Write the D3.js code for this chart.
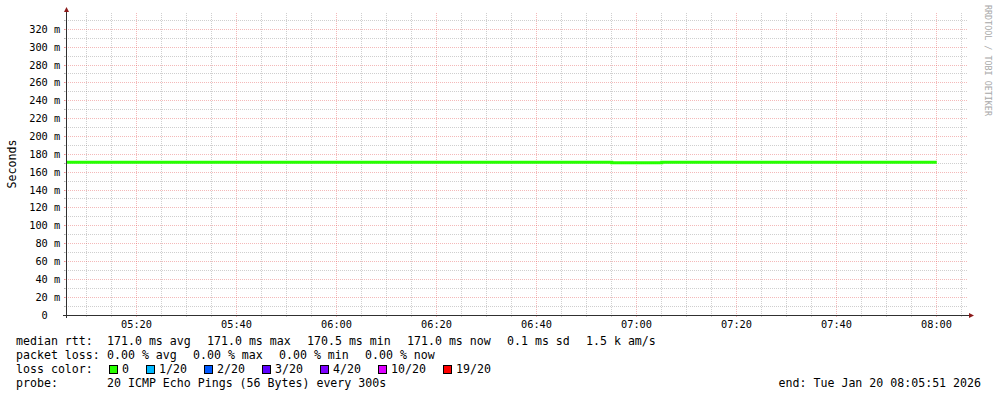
<!DOCTYPE html>
<html>
<head>
<meta charset="utf-8">
<script src="https://cdn.jsdelivr.net/npm/d3@7"></script>
<style>
  body { margin: 0; background: #fff; }
  svg { display: block; }
  text { font-family: "DejaVu Sans Mono", monospace; }
</style>
</head>
<body>
<div id="chart"></div>
<script>
const W = 997, H = 397;

// time window (clock times shown as UTC)
const startTime = new Date(Date.UTC(2026, 0, 20, 5, 5, 51));
const endTime = new Date(Date.UTC(2026, 0, 20, 8, 5, 51));

// 5-minute samples, each labelled by the end of its interval
const sampleEnds = [
  "05:10", "05:15", "05:20", "05:25", "05:30", "05:35", "05:40", "05:45", "05:50", "05:55",
  "06:00", "06:05", "06:10", "06:15", "06:20", "06:25", "06:30", "06:35", "06:40", "06:45",
  "06:50", "06:55", "07:00", "07:05", "07:10", "07:15", "07:20", "07:25", "07:30", "07:35",
  "07:40", "07:45", "07:50", "07:55", "08:00"
];
// median rtt in ms
const medianRtt = [
  171.0, 171.0, 171.0, 171.0, 171.0, 171.0, 171.0, 171.0, 171.0, 171.0,
  171.0, 171.0, 171.0, 171.0, 171.0, 171.0, 171.0, 171.0, 171.0, 171.0,
  171.0, 171.0, 170.5, 170.5, 171.0, 171.0, 171.0, 171.0, 171.0, 171.0,
  171.0, 171.0, 171.0, 171.0, 171.0
];

const yTicks = [0, 20, 40, 60, 80, 100, 120, 140, 160, 180, 200, 220, 240, 260, 280, 300, 320];
const yMinor = [10, 30, 50, 70, 90, 110, 130, 150, 170, 190, 210, 230, 250, 270, 290, 310, 330];

const lossLabels = ["0", "1/20", "2/20", "3/20", "4/20", "10/20", "19/20"];
const lossColors = ["#26ff00", "#00b8ff", "#0059ff", "#5e00ff", "#7e00ff", "#dd00ff", "#ff0000"];

const rttItems = ["171.0 ms avg", "171.0 ms max", "170.5 ms min", "171.0 ms now", "0.1 ms sd", "1.5 k am/s"];
const lossItems = ["0.00 % avg", "0.00 % max", "0.00 % min", "0.00 % now"];

const parseT = s => {
  const [h, m] = s.split(":").map(Number);
  return new Date(Date.UTC(2026, 0, 20, h, m, 0));
};

const X0 = 66, X1 = 966, Y0 = 315, Y1 = 14;
const x = d3.scaleUtc().domain([startTime, endTime]).range([X0, X1]);
const y = d3.scaleLinear().domain([0, 337.12]).range([Y0, Y1]);
const px = v => Math.floor(v) + 0.5;

const svg = d3.select("#chart").append("svg")
  .attr("width", W).attr("height", H);

svg.append("rect").attr("width", W).attr("height", H).attr("fill", "#fff");

const minorCol = "rgba(110,110,110,0.33)";
const majorCol = "rgba(225,70,70,0.38)";

const grid = svg.append("g").attr("shape-rendering", "crispEdges");

// vertical grid
const vMinor = d3.utcMinute.every(5).range(startTime, endTime).filter(t => t.getUTCMinutes() % 20 !== 0);
const vMajor = d3.utcMinute.every(20).range(startTime, endTime);

function vLines(data, col) {
  grid.append("g").selectAll("line").data(data).join("line")
    .attr("x1", d => px(x(d))).attr("x2", d => px(x(d)))
    .attr("y1", Y1 - 1).attr("y2", Y0)
    .attr("stroke", col).attr("stroke-dasharray", "1,1");
  grid.append("g").selectAll("line").data(data).join("line")
    .attr("x1", d => px(x(d))).attr("x2", d => px(x(d)))
    .attr("y1", Y0).attr("y2", Y0 + 2)
    .attr("stroke", col);
}
function hLines(data, col) {
  grid.append("g").selectAll("line").data(data).join("line")
    .attr("x1", X0 - 2).attr("x2", X1 + 2)
    .attr("y1", d => px(y(d))).attr("y2", d => px(y(d)))
    .attr("stroke", col).attr("stroke-dasharray", "1,1");
  grid.append("g").selectAll("line").data(data).join("line")
    .attr("x1", X0 - 2).attr("x2", X0)
    .attr("y1", d => px(y(d))).attr("y2", d => px(y(d)))
    .attr("stroke", col);
}
vLines(vMinor, minorCol);
hLines(yMinor, minorCol);
vLines(vMajor, majorCol);
hLines(yTicks.filter(d => d > 0), majorCol);

// data line
const segs = sampleEnds.map((s, i) => {
  const e = parseT(s);
  const st = new Date(Math.max(+startTime, +e - 300000));
  return { t: st, v: medianRtt[i] };
});
segs.push({ t: parseT(sampleEnds[sampleEnds.length - 1]), v: medianRtt[medianRtt.length - 1] });

svg.append("path")
  .datum(segs)
  .attr("fill", "none")
  .attr("stroke", lossColors[0])
  .attr("stroke-width", 3)
  .attr("d", d3.line().x(d => x(d.t)).y(d => y(d.v)).curve(d3.curveStepAfter));

// axes
const axisCol = "#303030";
const arrowCol = "#8b1a1a";
const ax = svg.append("g").attr("shape-rendering", "crispEdges");
ax.append("line").attr("x1", X0 - 3).attr("x2", X1 + 3)
  .attr("y1", Y0 + 0.5).attr("y2", Y0 + 0.5).attr("stroke", axisCol);
ax.append("line").attr("x1", X0 + 0.5).attr("x2", X0 + 0.5)
  .attr("y1", Y1 - 2).attr("y2", Y0 + 3).attr("stroke", axisCol);
svg.append("path")
  .attr("d", `M${X1 + 3},${Y0 - 2} L${X1 + 8},${Y0 + 0.5} L${X1 + 3},${Y0 + 3} Z`)
  .attr("fill", arrowCol);
svg.append("path")
  .attr("d", `M${X0 - 2},${Y1 - 2} L${X0 + 0.5},${Y1 - 7} L${X0 + 3},${Y1 - 2} Z`)
  .attr("fill", arrowCol);

// tick labels
const tickFont = "10.3px";
svg.append("g").selectAll("text").data(vMajor).join("text")
  .attr("x", d => px(x(d))).attr("y", 328)
  .attr("text-anchor", "middle")
  .style("font-size", tickFont).attr("fill", "#000")
  .text(d3.utcFormat("%H:%M"));

const yl = svg.append("g");
yl.selectAll("text.num").data(yTicks).join("text")
  .attr("class", "num")
  .attr("x", 47.8).attr("y", d => px(y(d)) + 3.6)
  .attr("text-anchor", "end")
  .style("font-size", tickFont).attr("fill", "#000")
  .text(d => d);
yl.selectAll("text.unit").data(yTicks.filter(d => d > 0)).join("text")
  .attr("class", "unit")
  .attr("x", 54).attr("y", d => px(y(d)) + 3.6)
  .style("font-size", tickFont).attr("fill", "#000")
  .text("m");

svg.append("text")
  .attr("transform", "translate(15.5,164) rotate(-90)")
  .attr("text-anchor", "middle")
  .style("font-size", "11.6px")
  .text("Seconds");

// watermark
svg.append("text")
  .attr("transform", "translate(984.5,5) rotate(90)")
  .style("font-size", "8.4px").attr("fill", "#a8a8a8")
  .text("RRDTOOL / TOBI OETIKER");

// legend
const lf = "11.6px", cw = 7, gap = 16;
const leg = svg.append("g").style("font-size", lf).attr("fill", "#000");

function row(label, items, yb) {
  leg.append("text").attr("x", 16).attr("y", yb).text(label);
  let cx = 107;
  items.forEach(t => {
    leg.append("text").attr("x", cx).attr("y", yb).text(t);
    cx += t.length * cw + gap;
  });
}
row("median rtt:", rttItems, 345);
row("packet loss:", lossItems, 359);

leg.append("text").attr("x", 16).attr("y", 373).text("loss color:");
let bx = 109;
lossLabels.forEach((l, i) => {
  leg.append("rect")
    .attr("x", bx + 0.5).attr("y", 365.5).attr("width", 8).attr("height", 8)
    .attr("fill", lossColors[i]).attr("stroke", "#000")
    .attr("shape-rendering", "crispEdges");
  leg.append("text").attr("x", bx + 13).attr("y", 373).text(l);
  bx += 13 + l.length * cw + 17;
});

leg.append("text").attr("x", 16).attr("y", 387).text("probe:");
leg.append("text").attr("x", 107).attr("y", 387).text("20 ICMP Echo Pings (56 Bytes) every 300s");
leg.append("text").attr("x", 981).attr("y", 387).attr("text-anchor", "end")
  .text("end: Tue Jan 20 08:05:51 2026");
</script>
</body>
</html>
